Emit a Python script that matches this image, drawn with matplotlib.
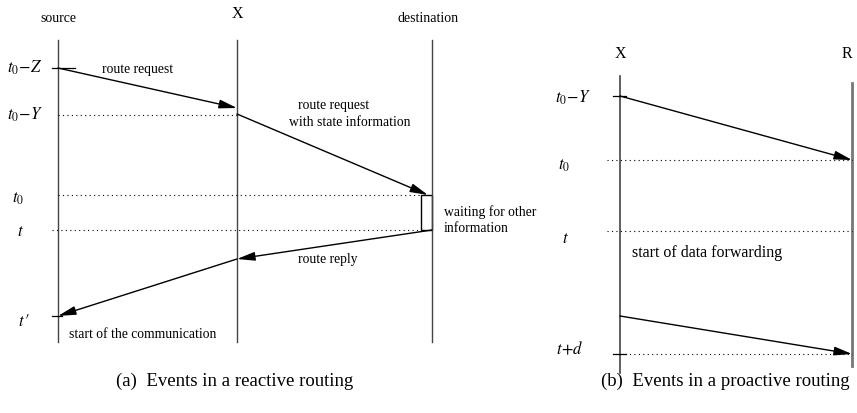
import matplotlib
matplotlib.use("Agg")
import matplotlib.pyplot as plt

plt.rcParams['font.family'] = ['Liberation Serif', 'DejaVu Serif']
plt.rcParams['mathtext.fontset'] = 'stix'

W, H = 857, 413

# ---- panel (a): reactive routing ----
a_lifelines = {"source": 58, "X": 237, "destination": 432}
a_life_top = 40
a_life_bottom = 342
a_headers = [("source", 58, 18), ("X", 237, 14), ("destination", 428, 18)]
a_time_labels = [(r"$t_0\!-\!Z$", 7, 68), (r"$t_0\!-\!Y$", 7, 115),
                 (r"$t_0$", 12, 199), (r"$t$", 17, 232), (r"$t\,\prime$", 18, 322)]
a_messages = [(58, 68, 237, 108), (237, 114, 428, 195),
              (432, 230, 237, 259), (237, 259, 58, 316)]
a_msg_labels = [("route request", 102, 70),
                ("route request", 298, 105),
                ("with state information", 289, 122),
                ("route reply", 298, 260),
                ("start of the communication", 69, 335),
                ("waiting for other", 444, 212),
                ("information", 444, 228)]
a_dotted = [(58, 237, 115), (58, 421, 195), (52, 421, 230)]
a_ticks = [(52, 75, 68), (52, 62, 316)]
a_wait_box = (421, 195, 432, 230)

# ---- panel (b): proactive routing ----
b_lifelines = {"X": (620, 76, 373), "R": (852, 83, 366)}
b_headers = [("X", 620, 54), ("R", 847, 54)]
b_time_labels = [(r"$t_0\!-\!Y$", 555, 98), (r"$t_0$", 558, 166),
                 (r"$t$", 562, 239), (r"$t\!+\!d$", 556, 350)]
b_messages = [(620, 96, 852, 160), (620, 316, 852, 354)]
b_dotted = [(607, 852, 160), (607, 852, 231), (625, 852, 354)]
b_ticks = [(613, 626, 96), (613, 626, 354)]
b_msg_labels = [("start of data forwarding", 632, 253)]

captions = [("(a)  Events in a reactive routing", 235, 381),
            ("(b)  Events in a proactive routing", 725, 381)]

fig = plt.figure(figsize=(W / 100, H / 100), dpi=100)
ax = fig.add_axes([0, 0, 1, 1])
ax.set_xlim(0, W)
ax.set_ylim(H, 0)
ax.axis('off')

lifecol = '#444444'
for x in a_lifelines.values():
    ax.plot([x, x], [a_life_top, a_life_bottom], color=lifecol, lw=1.0)
for name, (x, y0, y1) in b_lifelines.items():
    ax.plot([x, x], [y0, y1], color=lifecol if name == "X" else '#777777',
            lw=1.2 if name == "X" else 2.0)

for txt, x, y in a_headers:
    ax.text(x, y, txt, ha='center', va='center',
            fontsize=11.5 if txt == "X" else 10)
for txt, x, y in b_headers:
    ax.text(x, y, txt, ha='center', va='center', fontsize=11.5)

for txt, x, y in a_time_labels + b_time_labels:
    ax.text(x, y, txt, ha='left', va='center', fontsize=12)

for x0, x1, y in a_dotted + b_dotted:
    ax.plot([x0, x1], [y, y], color='black', lw=0.8, ls=(0, (1, 3)))

for x0, x1, y in a_ticks + b_ticks:
    ax.plot([x0, x1], [y, y], color='black', lw=0.9)

for x0, y0, x1, y1 in a_messages + b_messages:
    ax.annotate('', xy=(x1, y1), xytext=(x0, y0),
                arrowprops=dict(arrowstyle='-|>,head_length=0.9,head_width=0.22',
                                color='black', lw=1.0, shrinkA=0, shrinkB=0,
                                mutation_scale=12))

bx0, by0, bx1, by1 = a_wait_box
ax.add_patch(plt.Rectangle((bx0, by0), bx1 - bx0, by1 - by0, fill=False,
                           edgecolor='black', lw=1.0))

for txt, x, y in a_msg_labels:
    ax.text(x, y, txt, ha='left', va='center', fontsize=9.8)
for txt, x, y in b_msg_labels:
    ax.text(x, y, txt, ha='left', va='center', fontsize=11.5)

for txt, x, y in captions:
    ax.text(x, y, txt, ha='center', va='center', fontsize=13.5)

fig.savefig('out.png', dpi=100)
